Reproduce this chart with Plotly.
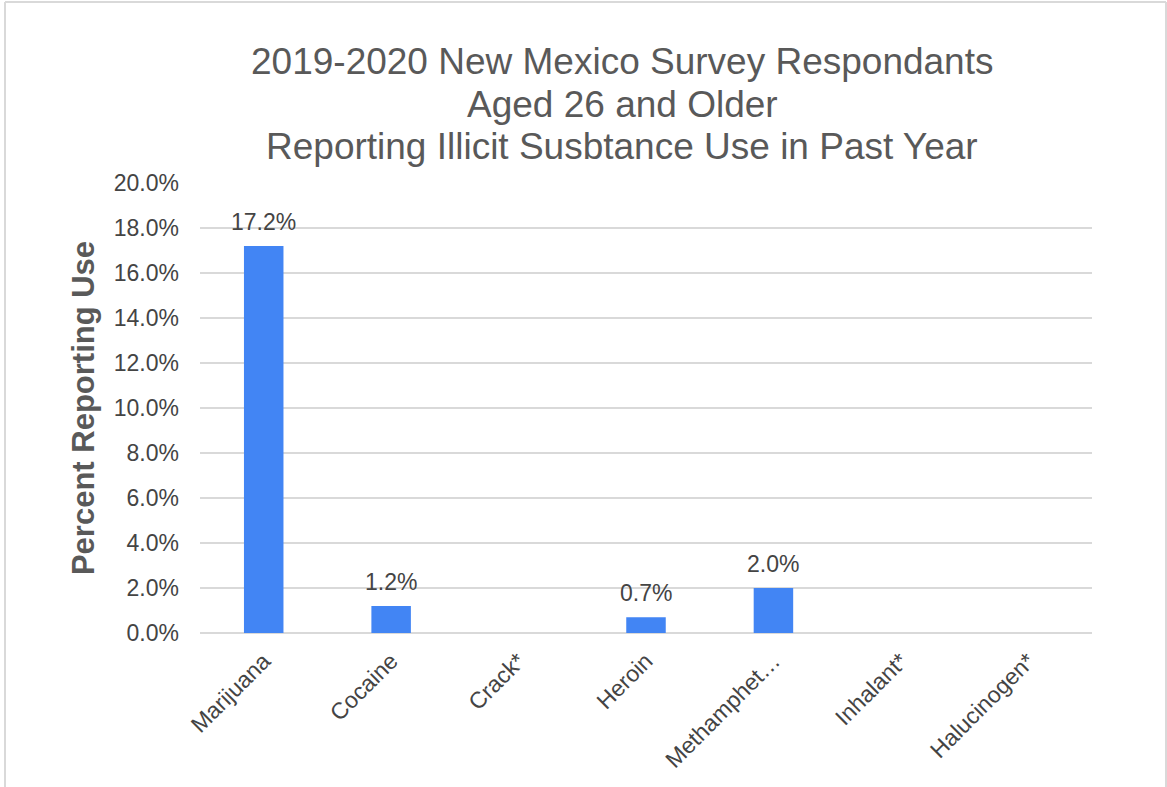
import plotly.graph_objects as go

# Past-year illicit substance use, NM respondents aged 26+ (2019-2020)
substances = ["Marijuana", "Cocaine", "Crack*", "Heroin", "Methamphet\u2026",
              "Inhalant*", "Halucinogen*"]
# Suppressed estimates (marked *) are left empty
pct_use = [0.172, 0.012, None, 0.007, 0.020, None, None]

y_ticks = [0.0, 0.02, 0.04, 0.06, 0.08, 0.10, 0.12, 0.14, 0.16, 0.18, 0.20]

title_lines = ["2019-2020 New Mexico Survey Respondants",
               "Aged 26 and Older",
               "Reporting Illicit Susbtance Use in Past Year"]

W, H = 1167, 787
ML, MR, MT, MB = 200, 75, 183, 154
PW, PH = W - ML - MR, H - MT - MB

FONT = "Liberation Sans, Arial, sans-serif"
BLUE = "#4285F4"
TXT = "#444444"
GREY = "#595959"


def px_x(px):
    return (px - ML) / PW


def px_y(px):
    return 1 - (px - MT) / PH


fig = go.Figure(go.Bar(
    x=substances,
    y=pct_use,
    marker=dict(color=BLUE, line=dict(width=0)),
    cliponaxis=False,
))

# value labels above each reported bar
for name, v in zip(substances, pct_use):
    if v is None:
        continue
    fig.add_annotation(
        x=name, y=v, xref="x", yref="y",
        text=f"{v*100:.1f}%", showarrow=False,
        yanchor="bottom", yshift=9,
        font=dict(family=FONT, size=23, color=TXT),
    )

# three-line chart title
for i, line in enumerate(title_lines):
    fig.add_annotation(
        x=px_x(622), y=px_y(62 + 42 * i), xref="paper", yref="paper",
        text=line, showarrow=False, xanchor="center", yanchor="middle",
        font=dict(family=FONT, size=37, color=GREY),
    )

# light frame around the chart (left, top, right edges)
frame = dict(type="line", xref="paper", yref="paper",
             line=dict(color="#d9d9d9", width=2))
fig.add_shape(**frame, x0=px_x(5), x1=px_x(5), y0=px_y(2), y1=px_y(790))
fig.add_shape(**frame, x0=px_x(5), x1=px_x(1166), y0=px_y(2), y1=px_y(2))
fig.add_shape(**frame, x0=px_x(1166), x1=px_x(1166), y0=px_y(2), y1=px_y(790))

fig.update_layout(
    width=W, height=H,
    margin=dict(l=ML, r=MR, t=MT, b=MB, pad=0),
    paper_bgcolor="white", plot_bgcolor="white",
    bargap=0.69,
    showlegend=False,
    xaxis=dict(
        tickangle=-45,
        tickfont=dict(family=FONT, size=23, color=TXT),
        ticklabelstandoff=9,
        showgrid=False, showline=False, ticks="",
    ),
    yaxis=dict(
        range=[0, 0.2],
        tickvals=y_ticks,
        tickformat=".1%",
        tickfont=dict(family=FONT, size=23, color=TXT),
        ticklabelstandoff=20,
        showgrid=True, gridcolor="#d9d9d9", gridwidth=1.5,
        zeroline=True, zerolinecolor="#d9d9d9", zerolinewidth=1.5,
        showline=False, ticks="",
        title=dict(text="<b>Percent Reporting Use</b>",
                   font=dict(family=FONT, size=31, color=GREY),
                   standoff=9),
    ),
)

fig.write_html("out.html")
